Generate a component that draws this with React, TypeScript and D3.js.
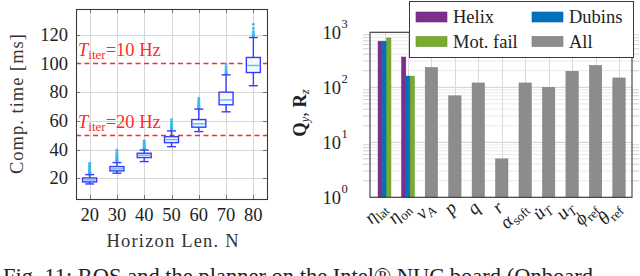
import React from "react";
import * as d3 from "d3";

const horizon = [20, 30, 40, 50, 60, 70, 80];
const q1 = [17.4, 25.1, 34.4, 44.8, 55.6, 71.2, 93.7];
const median = [18.8, 26.5, 36, 46.9, 57.9, 74.6, 98.6];
const q3 = [20.2, 28.1, 37.4, 49, 60.9, 80, 104.2];
const whiskerLo = [16, 23.5, 31.6, 42, 52.5, 66.3, 84.5];
const whiskerHi = [22.5, 30.9, 39.7, 53, 68.2, 92.1, 118.1];
const outliers = [
  [23, 23.4, 23.8, 24.2, 24.7, 25.2, 25.8, 26.5, 27.3, 28.2, 29.2, 30.5],
  [31.5, 32, 32.5, 33, 33.6, 34.3, 35, 36, 37, 38.3, 39.7],
  [40.3, 40.8, 41.3, 41.9, 42.6, 43.4, 44.3, 45.2, 46.2],
  [53.6, 54.2, 54.8, 55.5, 56.3, 57.2, 58.2, 59.5, 61],
  [68.8, 69.4, 70.1, 70.9, 71.8, 73, 74.3, 75.8],
  [92.7, 93.3, 94, 95, 96.2, 97.8, 99.6],
  [118.7, 119.3, 120, 121, 122.3, 124.5, 127.3],
];
const leftYTicks = [20, 40, 60, 80, 100, 120];
const rateLines = [
  { value: 100, label: "=10 Hz" },
  { value: 50, label: "=20 Hz" },
];

const categories = ["eta_lat", "eta_on", "v_A", "p", "q", "r", "alpha_soft", "udot_T", "u_T", "phi_ref", "theta_ref"];
const catLabels: [string, string][] = [
  ["η", "lat"], ["η", "on"], ["v", "A"], ["p", ""], ["q", ""], ["r", ""],
  ["α", "soft"], ["u̇", "T"], ["u", "T"], ["ϕ", "ref"], ["θ", "ref"],
];
const helix = [690, 355];
const dubins = [690, 160];
const motFail = [790, 160];
const allVals = [null, null, 229, 70, 120, 5.0, 120, 100, 196, 250, 148];
const logTicks = [1, 10, 100, 1000];

const FONT = "'Liberation Serif', 'Times New Roman', serif";
const FS = 18.5;
const RED = "#ff2a2a";
const BOXBLUE = "#3a3aff";
const MEDCYAN = "#4cc3f0";
const COLS = { helix: "#7e2f8e", dubins: "#0072bd", mot: "#77ac30", all: "#8c8c8c" };

const snap = (v: number) => Math.round(v) + 0.5;

export default function App() {
  // left chart
  const L = { x0: 76, x1: 267, y0: 9, y1: 199 };
  const x = d3.scaleLinear().domain([15, 85]).range([L.x0, L.x1]);
  const y = d3.scaleLinear().domain([5.5, 138]).range([L.y1, L.y0]);
  const bw = 14;
  const cw = 9;

  // right chart
  const R = { x0: 370, x1: 632, y0: 32.3, y1: 197.3 };
  const xc = d3.scalePoint<string>().domain(categories).range([384.5, 619]);
  const yl = d3.scaleLog().domain([1, 1000]).range([R.y1, R.y0]);
  const minorVals: number[] = [];
  [1, 10, 100].forEach((b) => { for (let k = 2; k <= 9; k++) minorVals.push(b * k); });
  const gbw = 4.3;
  const abw = 12.4;

  return (
    <svg width={640} height={276} style={{ position: "absolute", left: 0, top: 0, fontFamily: FONT }}>
      <rect width={640} height={276} fill="white" />
      {/* ===== LEFT CHART ===== */}
      {horizon.map((h) => (
        <line key={"vg" + h} x1={snap(x(h))} x2={snap(x(h))} y1={L.y0} y2={L.y1} stroke="#d6d6d6" strokeWidth={1} />
      ))}
      {leftYTicks.filter((t) => t !== 100).map((t) => (
        <line key={"hg" + t} x1={L.x0} x2={L.x1} y1={snap(y(t))} y2={snap(y(t))} stroke="#d6d6d6" strokeWidth={1} />
      ))}
      {leftYTicks.map((t) => (
        <g key={"lt" + t}>
          <line x1={L.x0} x2={L.x0 + 4} y1={snap(y(t))} y2={snap(y(t))} stroke="#777" />
          <line x1={L.x1 - 4} x2={L.x1} y1={snap(y(t))} y2={snap(y(t))} stroke="#777" />
          <text x={68} y={y(t)} dy="0.34em" textAnchor="end" fontSize={FS} fill="#222">{t}</text>
        </g>
      ))}
      {horizon.map((h) => (
        <g key={"xt" + h}>
          <line x1={snap(x(h))} x2={snap(x(h))} y1={L.y1} y2={L.y1 - 4} stroke="#777" />
          <line x1={snap(x(h))} x2={snap(x(h))} y1={L.y0} y2={L.y0 + 4} stroke="#777" />
          <text x={x(h)} y={221} textAnchor="middle" fontSize={FS} fill="#222">{h}</text>
        </g>
      ))}
      {rateLines.map((r, i) => (
        <g key={"rl" + i}>
          <line x1={L.x0} x2={L.x1} y1={snap(y(r.value))} y2={snap(y(r.value))} style={{ stroke: RED }} strokeWidth={1.5} strokeDasharray="5,3.5" />
          <text x={78} y={y(r.value) - 7} fill={RED} fontSize={18.5}>
            <tspan fontStyle="italic">T</tspan>
            <tspan fontSize={13} dy={3}>iter</tspan>
            <tspan dy={-3}>{r.label}</tspan>
          </text>
        </g>
      ))}
      {horizon.map((h, i) => {
        const cx = x(h);
        return (
          <g key={"box" + h}>
            {outliers[i].map((o, j) => (
              <circle key={j} cx={cx} cy={y(o)} r={1.5} fill="#38b6ec" opacity={0.9} />
            ))}
            <line x1={cx} x2={cx} y1={y(whiskerHi[i])} y2={y(q3[i])} stroke={BOXBLUE} strokeWidth={1.4} />
            <line x1={cx} x2={cx} y1={y(q1[i])} y2={y(whiskerLo[i])} stroke={BOXBLUE} strokeWidth={1.4} />
            <line x1={cx - cw / 2} x2={cx + cw / 2} y1={y(whiskerHi[i])} y2={y(whiskerHi[i])} stroke={BOXBLUE} strokeWidth={1.4} />
            <line x1={cx - cw / 2} x2={cx + cw / 2} y1={y(whiskerLo[i])} y2={y(whiskerLo[i])} stroke={BOXBLUE} strokeWidth={1.4} />
            <rect x={cx - bw / 2} y={y(q3[i])} width={bw} height={y(q1[i]) - y(q3[i])} fill="#f4f8ff" stroke={BOXBLUE} strokeWidth={1.4} />
            <line x1={cx - bw / 2 + 1} x2={cx + bw / 2 - 1} y1={y(median[i])} y2={y(median[i])} stroke={MEDCYAN} strokeWidth={1.4} />
          </g>
        );
      })}
      <rect x={L.x0 + 0.5} y={L.y0 + 0.5} width={L.x1 - L.x0} height={L.y1 - L.y0} fill="none" stroke="#3a3a3a" strokeWidth={1.1} />
      <text transform={`translate(23,${(L.y0 + L.y1) / 2}) rotate(-90)`} textAnchor="middle" fontSize={FS} fill="#333" textLength={140} lengthAdjust="spacing">Comp. time [ms]</text>
      <text x={(L.x0 + L.x1) / 2 + 1} y={247} textAnchor="middle" fontSize={FS} fill="#333" textLength={132} lengthAdjust="spacing">Horizon Len. N</text>

      {/* ===== RIGHT CHART ===== */}
      {minorVals.map((v) => (
        <g key={"mn" + v}>
          <line x1={R.x0} x2={R.x1} y1={yl(v)} y2={yl(v)} stroke="#e4e4e4" strokeWidth={0.8} />
          <line x1={R.x0 - 7} x2={R.x0} y1={yl(v)} y2={yl(v)} stroke="#c4c4c4" strokeWidth={0.8} />
          <line x1={R.x1} x2={R.x1 + 7} y1={yl(v)} y2={yl(v)} stroke="#c4c4c4" strokeWidth={0.8} />
        </g>
      ))}
      {logTicks.map((t) => (
        <g key={"mj" + t}>
          <line x1={R.x0} x2={R.x1} y1={yl(t)} y2={yl(t)} stroke="#cfcfcf" strokeWidth={1} />
          <text x={341} y={yl(t)} dy="0.36em" textAnchor="end" fontSize={FS} fill="#222">10</text>
          <text x={341.5} y={yl(t) - 4} fontSize={12.5} fill="#222">{Math.round(Math.log10(t))}</text>
        </g>
      ))}
      {categories.map((c) => (
        <line key={"cg" + c} x1={snap(xc(c)!)} x2={snap(xc(c)!)} y1={R.y0} y2={R.y1} stroke="#dadada" strokeWidth={1} />
      ))}
      {[0, 1].map((i) => {
        const cx = xc(categories[i])!;
        const groups: [number, string][] = [[helix[i], COLS.helix], [dubins[i], COLS.dubins], [motFail[i], COLS.mot]];
        return groups.map(([v, col], j) => (
          <rect key={"gb" + i + j} x={cx - 1.5 * gbw + j * gbw} y={yl(v)} width={gbw} height={R.y1 - yl(v)} fill={col} stroke={d3.color(col)!.darker(0.4).toString()} strokeWidth={0.5} />
        ));
      })}
      {allVals.map((v, i) =>
        v == null ? null : (
          <rect key={"ab" + i} x={xc(categories[i])! - abw / 2} y={yl(v)} width={abw} height={R.y1 - yl(v)} fill={COLS.all} stroke="#7a7a7a" strokeWidth={0.5} />
        )
      )}
      <rect x={R.x0} y={R.y0} width={R.x1 - R.x0} height={R.y1 - R.y0} fill="none" stroke="#3a3a3a" strokeWidth={1.1} />
      {categories.map((c, i) => (
        <text key={"cl" + c} transform={`translate(${xc(c)! + 3},${209}) rotate(-45)`} textAnchor="end" fontSize={19} fill="#222" fontStyle="italic">
          <tspan>{catLabels[i][0]}</tspan>
          {catLabels[i][1] ? <tspan fontSize={13} dy={4} fontStyle={catLabels[i][1] === "A" || catLabels[i][1] === "T" ? "italic" : "normal"}>{catLabels[i][1]}</tspan> : null}
        </text>
      ))}
      <text transform={`translate(306,113) rotate(-90)`} textAnchor="middle" fontSize={FS} fill="#222">
        <tspan fontWeight="bold">Q</tspan>
        <tspan fontSize={12.5} dy={3} fontStyle="italic">y</tspan>
        <tspan dy={-3}>, </tspan>
        <tspan fontWeight="bold">R</tspan>
        <tspan fontSize={12.5} dy={3} fontStyle="italic">z</tspan>
      </text>

      {/* legend */}
      <rect x={409.5} y={1.5} width={224} height={56} fill="white" stroke="#3a3a3a" strokeWidth={1} />
      {[
        { label: "Helix", col: COLS.helix, lx: 416, ly: 17 },
        { label: "Dubins", col: COLS.dubins, lx: 532, ly: 17 },
        { label: "Mot. fail", col: COLS.mot, lx: 416, ly: 41.5 },
        { label: "All", col: COLS.all, lx: 532, ly: 41.5 },
      ].map((e) => (
        <g key={"lg" + e.label}>
          <rect x={e.lx} y={e.ly - 5} width={31} height={10} fill={e.col} stroke={d3.color(e.col)!.darker(0.4).toString()} strokeWidth={0.6} />
          <text x={e.lx + 37} y={e.ly} dy="0.34em" fontSize={FS} fill="#222">{e.label}</text>
        </g>
      ))}

      {/* caption (cropped at the bottom, as in the reference) */}
      <text x={3} y={284} fontSize={22.5} fill="#222">Fig. 11: ROS and the planner on the Intel® NUC board (Onboard</text>
    </svg>
  );
}
